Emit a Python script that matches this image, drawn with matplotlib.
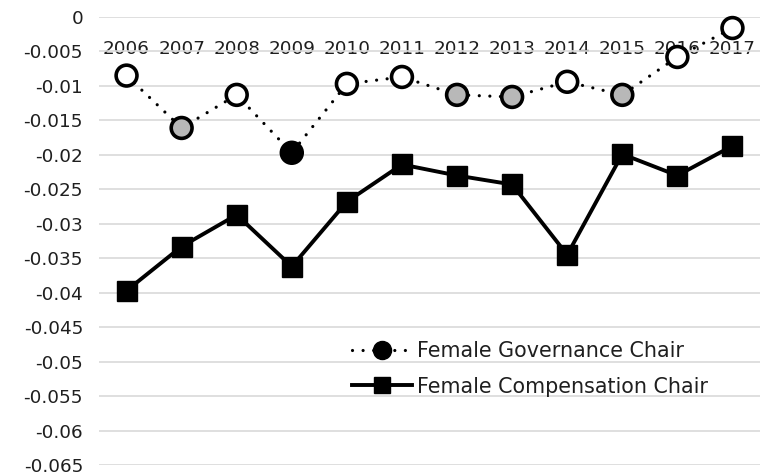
"""
Female chair coefficients by year, governance vs compensation committee
"""

import matplotlib
matplotlib.use('Agg')
import matplotlib.pyplot as plt
from matplotlib.lines import Line2D

# %% Data
years = ['2006', '2007', '2008', '2009', '2010', '2011',
         '2012', '2013', '2014', '2015', '2016', '2017']
governance = [-0.0085, -0.0161, -0.0113, -0.0197, -0.0097, -0.0087,
              -0.0113, -0.0116, -0.0094, -0.0113, -0.0058, -0.0016]
# marker fill per year: white / grey / black
governance_fill = ['white', 'grey', 'white', 'black', 'white', 'white',
                   'grey', 'grey', 'white', 'grey', 'white', 'white']
compensation = [-0.0397, -0.0333, -0.0287, -0.0362, -0.0268, -0.0214,
                -0.0230, -0.0243, -0.0345, -0.0199, -0.0230, -0.0187]
yticks = [0, -0.005, -0.01, -0.015, -0.02, -0.025, -0.03, -0.035,
          -0.04, -0.045, -0.05, -0.055, -0.06, -0.065]
ytick_labels = ['0', '-0.005', '-0.01', '-0.015', '-0.02', '-0.025', '-0.03',
                '-0.035', '-0.04', '-0.045', '-0.05', '-0.055', '-0.06', '-0.065']

fill_colors = {'white': '#ffffff', 'grey': '#b8b8b8', 'black': '#000000'}

# %% Plot
plt.rcParams['font.family'] = ['DejaVu Sans']
fs = 13.2
text_color = '#1f1f1f'

fig = plt.figure(figsize=(7.62, 4.75), dpi=100)
ax = fig.add_axes([99 / 762, 1 - 465 / 475, 661 / 762, 448 / 475])

x = list(range(len(years)))
dotted = (0, (0.01, 3.3))

ax.plot(x, governance, color='black', lw=2.3, linestyle=dotted,
        dash_capstyle='round', zorder=3)
ax.scatter(x, governance, s=15 ** 2, marker='o',
           facecolors=[fill_colors[c] for c in governance_fill],
           edgecolors='black', linewidths=2.6, zorder=4, clip_on=False)

ax.plot(x, compensation, color='black', lw=2.8, marker='s', ms=15,
        mfc='black', mec='black', zorder=3, clip_on=False)

ax.set_xlim(-0.5, len(years) - 0.5)
ax.set_ylim(-0.065, 0)

# category labels hang under the zero line
ax.spines['bottom'].set_position(('data', 0))
for side in ['top', 'right', 'left', 'bottom']:
    ax.spines[side].set_visible(False)

ax.set_yticks(yticks)
ax.set_yticklabels(ytick_labels)
ax.set_xticks(x)
ax.set_xticklabels(years)
ax.tick_params(axis='x', length=0, pad=16.5, labelsize=fs, labelcolor=text_color)
ax.tick_params(axis='y', length=0, pad=11.5, labelsize=fs, labelcolor=text_color)

ax.yaxis.grid(True, color='#d9d9d9', lw=1.2)
ax.set_axisbelow(True)

handles = [
    Line2D([], [], color='black', lw=2.3, linestyle=dotted,
           dash_capstyle='round', marker='o', ms=13, mfc='black', mec='black'),
    Line2D([], [], color='black', lw=2.8, marker='s', ms=12,
           mfc='black', mec='black'),
]
leg = ax.legend(handles, ['Female Governance Chair', 'Female Compensation Chair'],
                loc='upper left', bbox_to_anchor=(352 / 762, 1 - 341 / 475),
                bbox_transform=fig.transFigure, frameon=False,
                fontsize=14.9, handlelength=2.9, handletextpad=0.22,
                labelspacing=0.75, borderaxespad=0, borderpad=0)
for t in leg.get_texts():
    t.set_color(text_color)

fig.savefig('out.png', dpi=100)
